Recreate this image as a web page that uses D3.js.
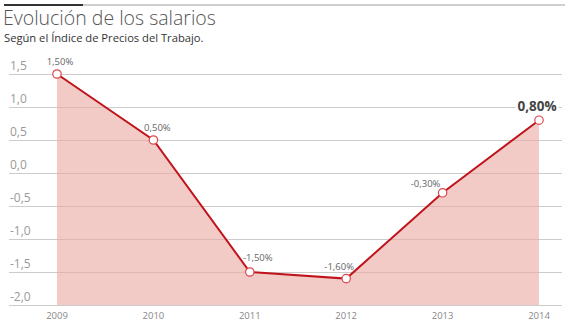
<!DOCTYPE html>
<html>
<head>
<meta charset="utf-8">
<script src="https://cdn.jsdelivr.net/npm/d3@7"></script>
<style>
  body { margin: 0; background: #fff; }
  svg { display: block; font-family: "Open Sans", sans-serif; }
</style>
</head>
<body>
<svg id="chart" width="575" height="323"></svg>
<script>
// Variación anual del Índice de Precios del Trabajo (%)
const years = ["2009", "2010", "2011", "2012", "2013", "2014"];
const values = [1.5, 0.5, -1.5, -1.6, -0.3, 0.8];
const valueLabels = ["1,50%", "0,50%", "-1,50%", "-1,60%", "-0,30%", "0,80%"];
const yTicks = [1.5, 1.0, 0.5, 0.0, -0.5, -1.0, -1.5, -2.0];
const yTickLabels = ["1,5", "1,0", "0,5", "0,0", "-0,5", "-1,0", "-1,5", "-2,0"];

const svg = d3.select("#chart");

// cabecera
svg.append("line").attr("x1", 83).attr("x2", 565).attr("y1", 5).attr("y2", 5)
  .attr("stroke", "#cfcfcf").attr("stroke-width", 2);
svg.append("line").attr("x1", 4).attr("x2", 83).attr("y1", 5).attr("y2", 5)
  .attr("stroke", "#333").attr("stroke-width", 2);
svg.append("text").attr("x", 3).attr("y", 25)
  .attr("font-size", 19.5).attr("font-weight", 300).attr("fill", "#555")
  .text("Evolución de los salarios");
svg.append("text").attr("x", 4).attr("y", 42)
  .attr("font-size", 11.2).attr("fill", "#333")
  .text("Según el Índice de Precios del Trabajo.");

const x = d3.scalePoint().domain(years).range([57, 539]);
const y = d3.scaleLinear().domain([-2, 1.5]).range([305, 74]);

// rejilla horizontal
const grid = svg.append("g");
grid.selectAll("line").data(yTicks).join("line")
  .attr("x1", 9).attr("x2", 562)
  .attr("y1", d => Math.round(y(d)) + 0.5).attr("y2", d => Math.round(y(d)) + 0.5)
  .attr("stroke", "#cccccc").attr("stroke-width", 1.2);
grid.selectAll("text").data(yTicks).join("text")
  .attr("x", 10).attr("y", d => y(d) - 4)
  .attr("font-size", 12).attr("fill", "#999")
  .text((d, i) => yTickLabels[i]);

const pts = years.map((yr, i) => ({ yr, v: values[i], label: valueLabels[i] }));

// área
const area = d3.area().x(d => x(d.yr)).y0(y(-2)).y1(d => y(d.v));
svg.append("path").datum(pts).attr("d", area)
  .attr("fill", "#e9a8a2").attr("fill-opacity", 0.6);

// línea
const line = d3.line().x(d => x(d.yr)).y(d => y(d.v));
svg.append("path").datum(pts).attr("d", line)
  .attr("fill", "none").attr("stroke", "#c0141c").attr("stroke-width", 2);

// puntos
svg.selectAll("circle.pt").data(pts).join("circle").attr("class", "pt")
  .attr("cx", d => x(d.yr)).attr("cy", d => y(d.v)).attr("r", 4.2)
  .attr("fill", "#fff").attr("stroke", "#d9474c").attr("stroke-width", 1.2);

// etiquetas de valor, desplazadas para no pisar la línea
const labelDx = [3, 4, 8, -7, -17, -2];
const labelDy = [-9.5, -9, -11.5, -8.5, -6, -9.5];
const last = pts.length - 1;
svg.selectAll("text.val").data(pts).join("text").attr("class", "val")
  .attr("x", (d, i) => x(d.yr) + labelDx[i])
  .attr("y", (d, i) => y(d.v) + labelDy[i])
  .attr("text-anchor", "middle")
  .attr("font-size", (d, i) => i === last ? 13.5 : 9.5)
  .attr("font-weight", (d, i) => i === last ? 700 : 400)
  .attr("fill", (d, i) => i === last ? "#444" : "#666")
  .text(d => d.label);

// fondo blanco tras la etiqueta destacada
const hl = svg.selectAll("text.val").filter((d, i) => i === last);
const bb = hl.node().getBBox();
svg.insert("rect", "text.val")
  .attr("x", bb.x - 2).attr("y", bb.y + 2).attr("width", bb.width + 4).attr("height", bb.height - 3)
  .attr("fill", "#fff");

// eje x
svg.append("g").selectAll("text").data(years).join("text")
  .attr("x", d => x(d)).attr("y", 319)
  .attr("text-anchor", "middle").attr("font-size", 9.5).attr("fill", "#888")
  .text(d => d);
</script>
</body>
</html>
